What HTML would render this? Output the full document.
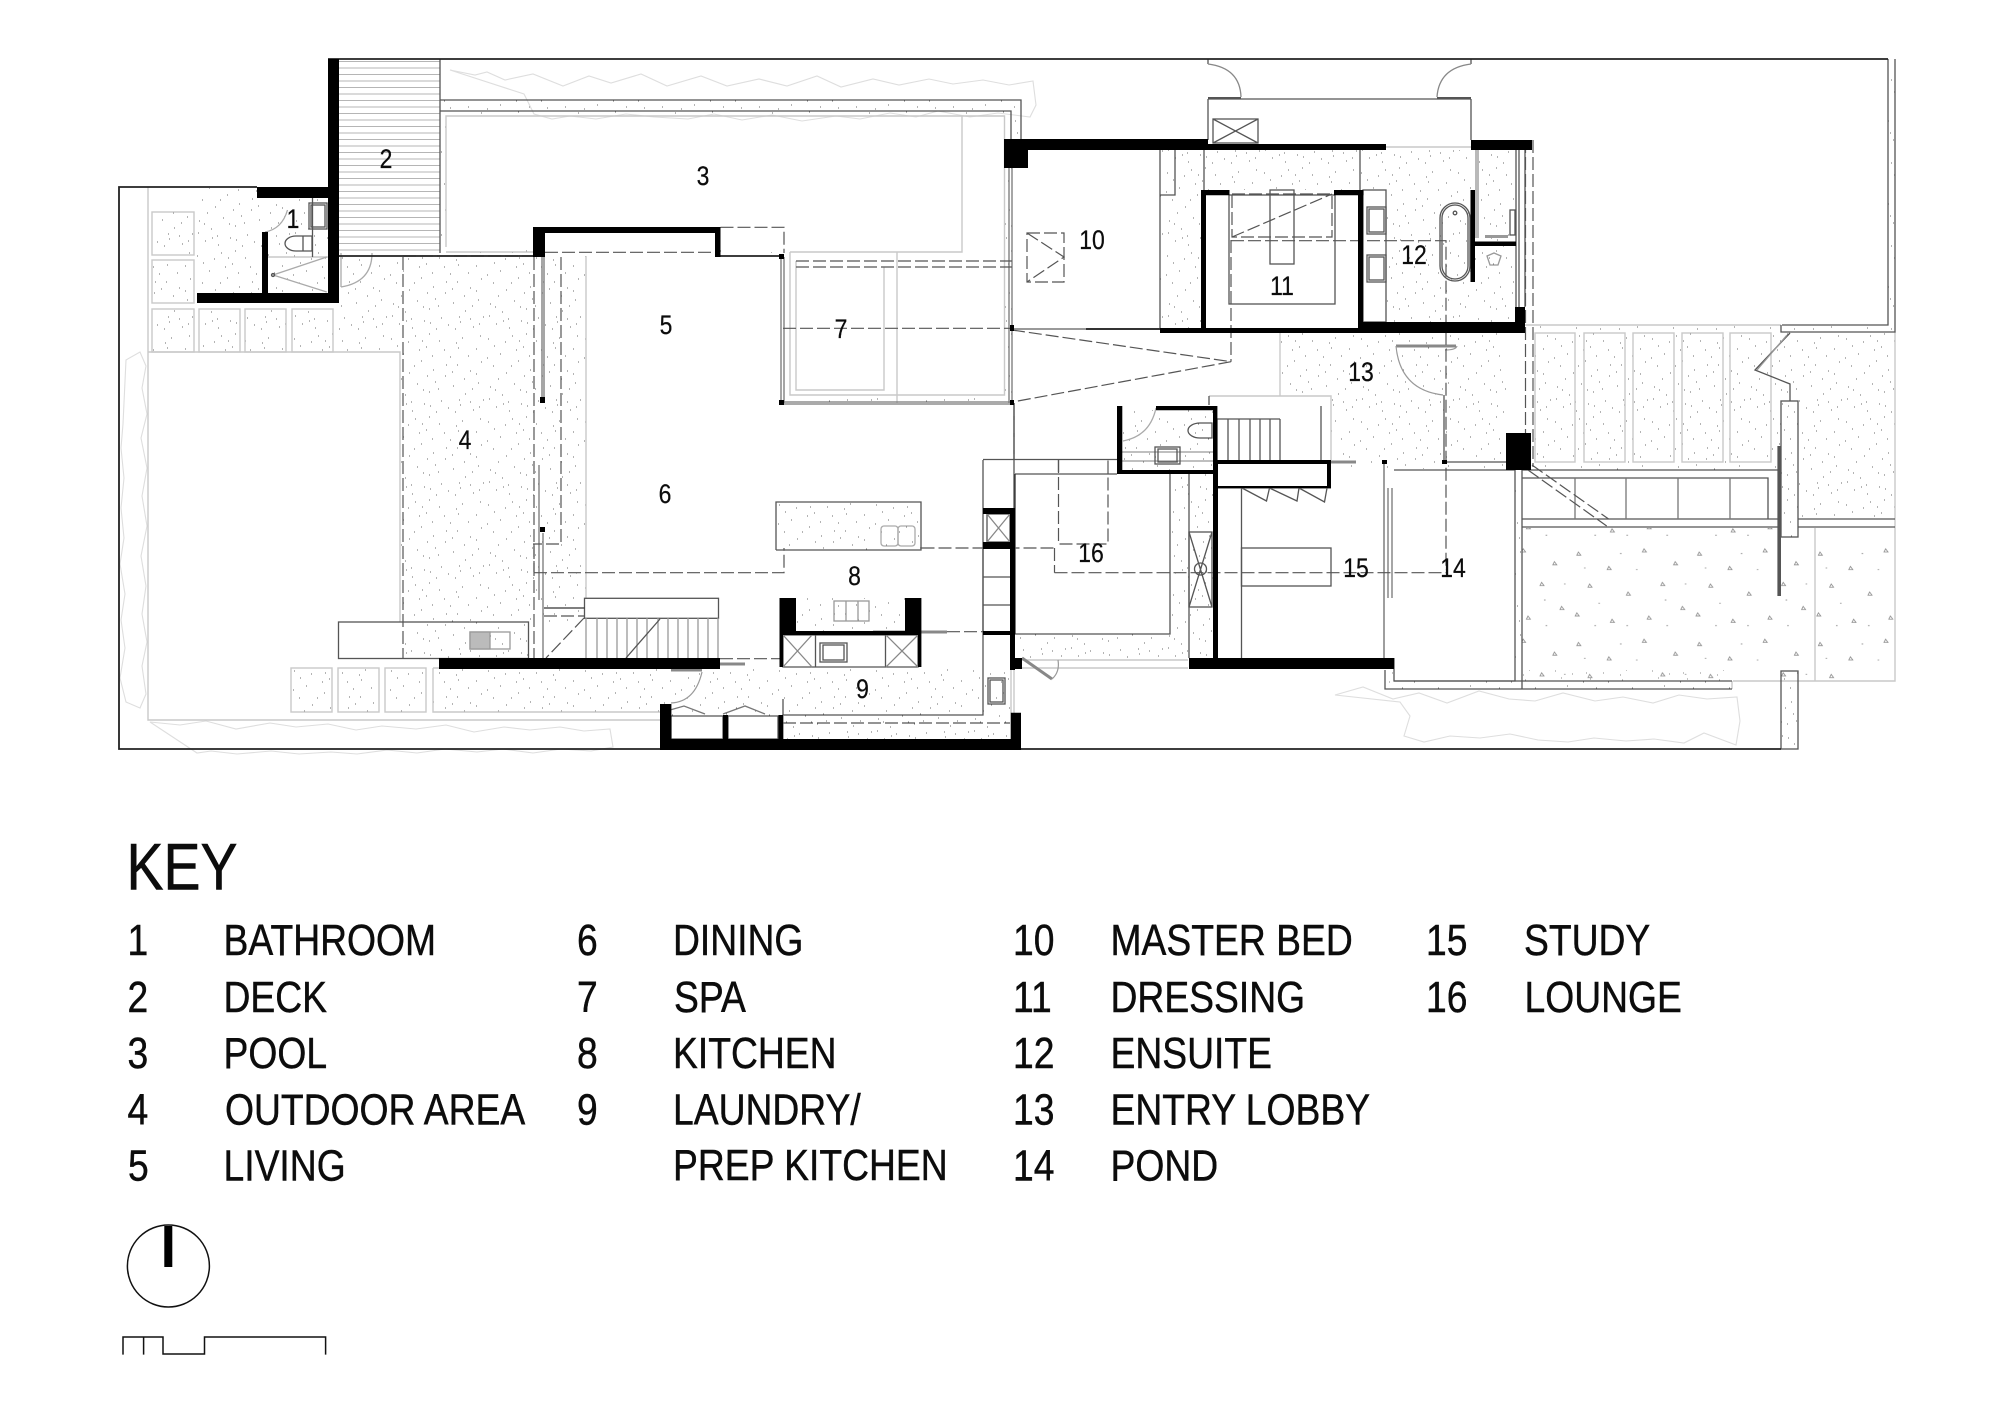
<!DOCTYPE html>
<html>
<head>
<meta charset="utf-8">
<title>Floor plan</title>
<style>
html,body{margin:0;padding:0;background:#fff}
svg{display:block}
.k{fill:none;stroke:#222;stroke-width:1.8}
.m{fill:none;stroke:#555;stroke-width:1.3}
.g{fill:none;stroke:#999;stroke-width:1.2}
.l{fill:none;stroke:#c9c9c9;stroke-width:1.4}
.s{fill:none;stroke:#dedede;stroke-width:1.1}
.d{fill:none;stroke:#555;stroke-width:1.2;stroke-dasharray:13 4}
.t{fill:none;stroke:#888;stroke-width:3}
text{font-family:"Liberation Sans",Arial,sans-serif;fill:#0c0c0c}
.n{font-size:27px;text-anchor:middle;stroke:#0c0c0c;stroke-width:.25}
.c{font-size:44px;stroke:#0c0c0c;stroke-width:.45}
</style>
</head>
<body>
<svg xmlns="http://www.w3.org/2000/svg" width="2000" height="1414" viewBox="0 0 2000 1414">
<defs>
<pattern id="st" patternUnits="userSpaceOnUse" width="97" height="83">
<path stroke="#6a6a6a" stroke-width="1" fill="none" d="M3 7h1M15 22h1M27 4h1M38 15h1M51 9h1M62 25h1M74 6h1M88 17h1M8 34h1M21 41h1M33 29h1M45 38h1M57 44h1M69 33h1M82 39h1M93 30h1M5 55h1M17 63h1M29 52h1M41 60h1M53 69h1M65 54h1M77 62h1M90 51h1M11 75h1M24 79h1M36 72h1M48 80h1M60 76h1M72 73h1M85 78h1M95 68h1M31 18h1M70 16h1M13 47h1M47 50h1M84 57h1M58 33h1M23 70h1M92 4h1M41 2h1M4 67h1M9 14h1M20 10h1M34 9h1M44 24h1M56 18h1M68 11h1M80 24h1M2 26h1M26 34h1M39 44h1M64 40h1M76 47h1M88 42h1M10 58h1M35 58h1M50 57h1M71 68h1M82 70h1M18 72h1M42 74h1M67 80h1M91 75h1"/>
</pattern>
<pattern id="tr" patternUnits="userSpaceOnUse" width="151" height="113" patternTransform="scale(.8)">
<path stroke="#8a8a8a" stroke-width="1" fill="none" d="M10 12l3 4h-5zM48 30l3 4h-5zM92 8l3 4h-5zM131 24l3 4h-5zM24 52l3 4h-5zM72 62l3 4h-5zM115 50l3 4h-5zM8 88l3 4h-5zM52 96l3 4h-5zM98 92l3 4h-5zM140 80l3 4h-5zM35 76h2M82 34h2M118 72h2M62 14h2M17 32h2M143 52h2M70 104h2M120 104h2M30 104h2"/>
</pattern>
<pattern id="ha" patternUnits="userSpaceOnUse" width="20" height="6.5">
<rect width="20" height="6.5" fill="#fff"/>
<path d="M0 3H20" stroke="#b5b5b5" stroke-width="1.1"/>
</pattern>
</defs>
<rect width="2000" height="1414" fill="#fff"/>

<!-- stipple regions -->
<g fill="url(#st)">
<rect x="197" y="188" width="65" height="105"/>
<rect x="268" y="198" width="60" height="95"/>
<rect x="152" y="212" width="42" height="43"/><rect x="152" y="260" width="42" height="43"/>
<rect x="152" y="309" width="42" height="43"/><rect x="199" y="309" width="41" height="43"/><rect x="245" y="309" width="41" height="43"/><rect x="292" y="309" width="41" height="43"/>
<path d="M339 256H586V622H529V659H403V622H400V352H339Z"/>
<rect x="440" y="100" width="581" height="11"/>
<rect x="1010" y="100" width="11" height="39"/>
<rect x="440" y="111" width="6" height="142"/>
<rect x="446" y="111" width="559" height="5"/>
<rect x="446" y="247" width="87" height="6"/>
<rect x="720" y="247" width="62" height="6"/>
<rect x="790" y="395" width="222" height="9"/>
<rect x="1004" y="168" width="8" height="230"/>
<rect x="291" y="668" width="41" height="44"/><rect x="338" y="668" width="41" height="44"/><rect x="385" y="668" width="41" height="44"/><rect x="433" y="668" width="227" height="44"/>
<rect x="660" y="669" width="350" height="46"/>
<rect x="671" y="715" width="340" height="24"/>
<rect x="776" y="502" width="145" height="48"/>
<rect x="796" y="598" width="109" height="33"/>
<rect x="1015" y="634" width="174" height="24"/>
<rect x="1170" y="474" width="43" height="184"/>
<rect x="1122" y="410" width="91" height="60"/>
<rect x="1160" y="150" width="41" height="178"/>
<rect x="1201" y="150" width="270" height="40"/>
<rect x="1363" y="190" width="108" height="132"/>
<rect x="1475" y="150" width="40" height="172"/>
<rect x="1475" y="246" width="40" height="76"/>
<path d="M1280 333H1525V325H1506V433H1506V469H1331V396H1280Z"/>
<rect x="1533" y="325" width="248" height="145"/>
<rect x="1781" y="333" width="114" height="186"/>
<rect x="1888" y="59" width="7" height="273"/>
<rect x="1782" y="325" width="106" height="7"/>
<rect x="1515" y="470" width="7" height="211"/>
<rect x="1385" y="670" width="347" height="19" opacity=".8"/>
<rect x="1394" y="681" width="340" height="8"/>
<rect x="1781" y="401" width="17" height="136"/>
<rect x="1781" y="671" width="17" height="78"/>
</g>
<g fill="url(#tr)">
<rect x="1522" y="528" width="259" height="153"/>
<rect x="1781" y="537" width="114" height="144"/>
</g>

<!-- white interiors -->
<g fill="#fff">
<rect x="1522" y="478" width="246" height="41"/>
<rect x="1363" y="190" width="23" height="132"/>
<rect x="309" y="203" width="18" height="26"/>
<rect x="285" y="236" width="27" height="15"/>
<rect x="1394" y="470" width="121" height="211"/>
</g>
<rect x="339" y="59" width="101" height="194" fill="url(#ha)"/>
<rect x="1475" y="150" width="4" height="88" fill="#b9b9b9"/>
<rect x="1485" y="235" width="23" height="3" fill="#999"/>

<!-- scribble planting -->
<g class="s">
<path d="M450 70l25 5 12-3 18 8 28-6 30 12 26-10 22 7 30-9 26 12 34-10 26 10 32-7 28 7 30-10 24 11 32-8 26 6 30-6 24 5 30-4 26 5 24-4 3 24-6 12-32-4-28 4-32-6-22 6-26-4-30 6-24-3-34 5-30-6-30 5-28-6-26 5-34-2-28-3-30 5-26-3-18 3-18-5-10-20Z"/>
<path d="M126 360l14-8 6 14-4 22 5 26-6 24 6 30-5 28 5 30-6 30 5 30-4 28 5 28-5 24 4 28-6 14-14-6-6-24 5-30-4-28 4-26-5-30 4-26-3-30 3-30-3-30 2-24Z"/>
<path d="M150 722l30 3 26-4 30 8 34-6 26 4 32-3 28 6 26-4 34 3 30-4 28 7 30-5 26 3 30-3 24 4 26-2 3 18-22 4-30-2-28 4-30-4-26 3-32-3-28 4-30-3-30 4-26-2-32 2-28-3-34 3-26-3-14 2Z"/>
<path d="M1335 695l28-8 30 12 26-6 28 10 32-12 30 8 26 2 28-8 32 8 28-4 30 6 26-8 28 4 30-2 3 24-4 24-32-12-20 10-30-4-28 2-32-3-26 4-30-2-28-6-30 4-30-2-26 6-20-6 6-20-10-14Z"/>
</g>

<!-- light lines -->
<g class="l">
<path d="M148 187V720H660"/>
<path d="M148 352H400V622"/>
<path d="M586 256V598"/>
<rect x="152" y="212" width="42" height="43"/><rect x="152" y="260" width="42" height="43"/>
<rect x="152" y="309" width="42" height="43"/><rect x="199" y="309" width="41" height="43"/><rect x="245" y="309" width="41" height="43"/><rect x="292" y="309" width="41" height="43"/>
<rect x="291" y="668" width="41" height="44"/><rect x="338" y="668" width="41" height="44"/><rect x="385" y="668" width="41" height="44"/>
<path d="M433 668H660M433 668V712H660"/>
<path d="M446 247V116H1004.5V395H790V252"/>
<path d="M446 252H533"/>
<path d="M962 116V252H790M897 252V403"/>
<path d="M796 261V390H884V267"/>
<path d="M1280 333V396"/>
<path d="M1209 396H1331V460"/>
<rect x="1535" y="333" width="40" height="129"/><rect x="1584" y="333" width="41" height="129"/><rect x="1633" y="333" width="41" height="129"/><rect x="1682" y="333" width="41" height="129"/><rect x="1730" y="333" width="41" height="129"/>
<path d="M1525 325H1781"/>
<path d="M1895 332V681H1733M1815 528V681M1732 689V681"/>
<path d="M1384 462V658M1022 660H1188M1022 668H1188"/>
<path d="M1011 670V713M1014 670V713"/>
<path d="M1386 147H1471"/>
<path d="M268 257H328"/>
</g>

<!-- medium lines -->
<g class="m">
<path d="M440 59V253M440 100H1021V139M440 111H1011V168"/>
<path d="M1160 150V328M1160 195H1175V150"/>
<path d="M1204 150V190M1360 150V190"/>
<rect x="1229" y="195" width="106" height="109"/>
<rect x="1270" y="190" width="24" height="74"/>
<rect x="1363" y="190" width="23" height="132"/>
<rect x="1367" y="207" width="19" height="27"/><rect x="1369" y="209" width="15" height="23"/>
<rect x="1367" y="255" width="19" height="27"/><rect x="1369" y="257" width="15" height="23"/>
<rect x="1440" y="203" width="30" height="78" rx="15"/><rect x="1442" y="205" width="26" height="74" rx="13"/>
<circle cx="1455" cy="213" r="1.8"/>
<path d="M1516 150V307M1519 150V307M1525 150V307"/>
<rect x="1510" y="210" width="5" height="25"/>
<path d="M1487 256l7-3 7 3-3 9h-8Z" stroke="#999"/>
<path d="M1208 59V64M1471 59V64"/>
<path d="M1208 64Q1240 68 1241 97M1471 64Q1439 68 1437 97" stroke="#888"/>
<path d="M1208 99H1471M1208 99V140M1471 99V140"/>
<rect x="1213" y="119" width="45" height="24"/><path d="M1213 119L1258 143M1258 119L1213 143"/>
<path d="M1015 474H1117M983 459.5H1117M1014 460V508M983 460V508M983 549V715H783"/>
<path d="M1058.5 460V472"/>
<path d="M1170 474V634H1015M1189 474V658"/>
<rect x="1189" y="532" width="23" height="75"/>
<path d="M1189 532L1212 607M1212 532L1189 607"/><circle cx="1200.5" cy="569" r="6"/>
<path d="M1241.5 488V658"/><rect x="1241.5" y="548" width="89.5" height="38"/>
<path d="M1218 488H1331"/>
<path d="M1242 488L1266.5 501 1269.5 488M1269.5 488L1297 501 1299 488M1299 488L1324.5 502 1327 488"/>
<path d="M1384 460V658M1388 488V598M1392 488V598" stroke="#777"/>
<path d="M1394 470H1515V681H1394V658"/>
<path d="M1385 670V689H1732M1394 681H1732M1522 470V689"/>
<path d="M1522 470H1781M1522 478H1768V519H1522M1522 519H1781M1522 527H1781M1798 519H1895M1798 527H1895"/>
<path d="M1575 478V519M1626 478V519M1678 478V519M1730 478V519" stroke="#777"/>
<rect x="1781" y="401" width="17" height="136"/>
<rect x="1781" y="671" width="17" height="78"/>
<path d="M1790 333L1755 370 1790 384V401"/>
<path d="M1787 335L1757 370" stroke="#999"/>
<path d="M1782 325H1888V59M1895 59V332H1781V325"/>
<path d="M1506 462H1446M1444 395V462"/>
<path d="M1217 419H1280M1217 419V460M1228 419V460M1239 419V460M1250 419V460M1260 419V460M1270 419V460M1280 419V460"/>
<path d="M1209 396V405M1321 406V460"/>
<path d="M1122 452H1213M1122 461H1213" stroke="#999"/>
<rect x="1155" y="447" width="25" height="17"/><rect x="1158" y="449" width="19" height="13"/>
<path d="M1212 423h-12a12 7.5 0 0 0 0 15h12ZM1212 423v15"/>
<path d="M1156 408Q1150 436 1123 441" stroke="#aaa"/>
<path d="M783 635H918V667H783ZM815.5 635V667M885.5 635V667"/>
<path d="M783 635L812 667M812 635L783 667M886 635L918 667M918 635L886 667" stroke="#888"/>
<rect x="820" y="643" width="27" height="19"/><rect x="823" y="645" width="21" height="15"/>
<rect x="834" y="601" width="35" height="20" stroke="#999"/>
<path d="M846 601V621M858 601V621" stroke="#999"/>
<path d="M776 550V502H921V550H776"/>
<rect x="881" y="526" width="17" height="20" rx="3" stroke="#aaa"/><rect x="898" y="526" width="17" height="20" rx="3" stroke="#aaa"/>
<rect x="987" y="514" width="23" height="28"/>
<path d="M987 514L1010 542M1010 514L987 542" stroke="#888"/>
<path d="M983 508V631M1010 577H983M1010 605H983"/>
<rect x="988" y="678" width="17" height="26"/><rect x="990" y="680" width="13" height="22"/>
<path d="M663 712L684 706 705 714M723 714L745 706 765 714M783 714V739" stroke="#777"/>
<path d="M671 716H723V739H671ZM728 716H778V739H728Z" fill="#fff"/>
<path d="M783 699V715"/>
<rect x="309" y="203" width="18" height="26"/><rect x="311" y="205" width="14" height="22"/>
<path d="M312.5 198V257"/>
<path d="M312 236h-16a11 7.5 0 0 0 0 15h16ZM303 236v15"/>
<path d="M326.8 257L273 275 326.8 292" stroke="#aaa"/>
<circle cx="273" cy="275" r="1.5"/>
<path d="M287.5 210Q282 229 265 232" stroke="#aaa"/>
<path d="M372 253Q372 282 341 287M341 253V287" stroke="#aaa"/>
<rect x="338.5" y="622" width="190" height="36.5"/>
<rect x="470" y="632" width="40" height="17" stroke="#999"/>
<rect x="470" y="632" width="20" height="17" fill="#bbb" stroke="#999"/>
<rect x="584.5" y="598.3" width="134" height="20"/>
<path d="M586 618V658M597 618V658M607 618V658M617 618V658M627 618V658M637 618V658M647 618V658M658 618V658M668 618V658M678 618V658M688 618V658M698 618V658M708 618V658M718 618V658" stroke="#999"/>
<path d="M660 619L626 658"/>
<path d="M544 608H584.5" stroke="#333"/>
<path d="M539 465V600M542 257V397M543 533V658M544 257V397" stroke="#777"/>
<path d="M781 257V403M784 257V403M782 404H1012M782 402H1012M1012 168V403M1009 168V403" stroke="#777"/>
<path d="M1014 403V460M1015 474V634" stroke="#333"/>
</g>

<!-- gray thick -->
<g class="t">
<path d="M1396 346H1456"/>
<path d="M667 664H745"/>
<path d="M671 670H702"/>
<path d="M873 632H947"/>
<path d="M1300 462H1356"/>
<path d="M1022 658L1052 679"/>
<path d="M1014 329H1086" stroke="#999" stroke-width="2"/>
<path d="M1086 329H1160" stroke="#333" stroke-width="2"/>
</g>
<path d="M1396 346Q1400 390 1443 395" class="g"/>
<path d="M1445 350Q1456 350 1457 346" class="g"/>
<path d="M702 672Q695 702 671 703" class="g"/>
<path d="M1052 679Q1060 672 1058 660" class="g"/>

<!-- dashed -->
<g class="d">
<path d="M545 252.3H716"/>
<path d="M720.5 227.3H784V253"/>
<path d="M561 257V544H533M534 572.7H784V548"/>
<path d="M534 544V572"/>
<path d="M403 257V658M403 256H533M534 257V658"/>
<path d="M783 328.3H1012"/>
<path d="M796 261H1012M796 267H1012"/>
<path d="M1012 330L1231 361.7 1014 401.7M1231 240V361.7"/>
<path d="M1231 240.7H1446V570"/>
<path d="M1054.5 572.7H1447M1054.5 548V572.7M921.5 548H1054.5"/>
<path d="M1014 403V460"/>
<path d="M1058.5 460V544H1108V460"/>
<rect x="1232" y="194" width="100" height="43"/>
<path d="M1232 237L1332 194"/>
<rect x="1027" y="233" width="37" height="49"/>
<path d="M1027 233L1064 257 1027 282"/>
<path d="M1525.5 140V467M1533 140V467"/>
<path d="M1532 465L1608.6 519M1528 470L1606.7 526"/>
<path d="M544 616H584.5M584 618L546 658"/>
<path d="M720 658.7H779.5"/>
<path d="M947 631.7H983"/>
<path d="M783 723H1010"/>
</g>

<!-- boundary -->
<g class="k">
<path d="M257 187H119V749H660M1021 749H1781"/>
<path d="M328 59H1888"/>
<path d="M339 256H533M720 256H781"/>
</g>

<!-- solid walls -->
<path fill="#000" d="M328 59h11v244h-11zM257 187h71v11h-71zM197 293h142v10h-142zM262 232h6v61h-6z
M533 227h187.5v6h-187.5zM533 227h12v30h-12zM715 227h5.5v30h-5.5z
M1004 139h204v11h-204zM1207 144h179v6h-179zM1004 139h24v29h-24zM1471 140h61v10h-61z
M1160 328h198v5h-198zM1358 322h167v11h-167zM1515 307h10v26h-10z
M1201 190h5v138h-5zM1201 190h28.5v5.3h-28.5zM1334 190h29.4v5.3h-29.4zM1358 190h5v138h-5z
M1470.5 190h4.5v92h-4.500zM1475 241.5h41v4.5h-41zM1506 433h25v37h-25z
M1117 406h5.3v67h-5.3zM1156 406h61v4.3h-61zM1213 406h4.4v67h-4.4zM1117 470h98v4h-98z
M1215 460h116v4h-116zM1327 463h4v25h-4zM1218 486h113v2h-113zM1213 460h5v208h-5zM1189 658h205v11h-205z
M905 598h16.4v37h-16.4zM779.500 598h16.5v33h-16.5zM779.5 631h141.9v4h-141.9zM918 635h3.4v32h-3.4zM779.5 631h3.5v36h-3.5z
M1010 508h5v162h-5zM1010 658h12v11h-12zM983 508h32v6h-32zM983 542h32v7h-32zM983 631h27v4h-27z
M439 658h281v11h-281z
M660 704h11.4v46h-11.4zM660 739h361v11h-361zM1010.7 712.7h10.3v37.3h-10.3zM723 715h5v25h-5zM778.5 715h4.5v25h-4.5z
M540 397h5v6h-5zM540 527h5v5h-5zM779 400h5v5h-5zM1010 400h4v5h-4zM1010 325h4v6h-4zM779 254h5v5h-5zM1442 460h5v4h-5zM1382 460h5v4h-5z" />
<path d="M1208 97h33v2.5h-33zM1437 97h34v2.5h-34z" fill="#555"/>
<path d="M1777.4 446h3.6v150h-3.6z" fill="#555"/>

<!-- room numbers -->
<text class="n" transform="translate(293,228) scale(.85,1)">1</text>
<text class="n" transform="translate(386,168) scale(.85,1)">2</text>
<text class="n" transform="translate(703,185) scale(.85,1)">3</text>
<text class="n" transform="translate(465,449) scale(.85,1)">4</text>
<text class="n" transform="translate(666,334) scale(.85,1)">5</text>
<text class="n" transform="translate(665,503) scale(.85,1)">6</text>
<text class="n" transform="translate(841,338) scale(.85,1)">7</text>
<text class="n" transform="translate(854.5,585) scale(.85,1)">8</text>
<text class="n" transform="translate(862.5,698) scale(.85,1)">9</text>
<text class="n" transform="translate(1092,249) scale(.85,1)">10</text>
<text class="n" transform="translate(1282,295) scale(.85,1)">11</text>
<text class="n" transform="translate(1414,264) scale(.85,1)">12</text>
<text class="n" transform="translate(1361,381) scale(.85,1)">13</text>
<text class="n" transform="translate(1453,577) scale(.85,1)">14</text>
<text class="n" transform="translate(1356,577) scale(.85,1)">15</text>
<text class="n" transform="translate(1091,562) scale(.85,1)">16</text>

<!-- key -->
<text font-size="66" stroke="#0c0c0c" stroke-width=".6" transform="translate(126.500,889.5) scale(.84,1)">KEY</text>
<g>
<text class="c" transform="translate(127.500,955) scale(.847,1)">1</text><text class="c" transform="translate(223.500,955) scale(.847,1)">BATHROOM</text>
<text class="c" transform="translate(127.500,1012) scale(.847,1)">2</text><text class="c" transform="translate(223.500,1012) scale(.847,1)">DECK</text>
<text class="c" transform="translate(127.500,1068) scale(.847,1)">3</text><text class="c" transform="translate(223.500,1068) scale(.847,1)">POOL</text>
<text class="c" transform="translate(127.500,1124.5) scale(.847,1)">4</text><text class="c" transform="translate(225,1124.5) scale(.847,1)">OUTDOOR AREA</text>
<text class="c" transform="translate(128,1180.5) scale(.847,1)">5</text><text class="c" transform="translate(223.500,1180.5) scale(.847,1)">LIVING</text>
<text class="c" transform="translate(577,955) scale(.847,1)">6</text><text class="c" transform="translate(673,955) scale(.847,1)">DINING</text>
<text class="c" transform="translate(577,1012) scale(.847,1)">7</text><text class="c" transform="translate(674,1012) scale(.847,1)">SPA</text>
<text class="c" transform="translate(577,1068) scale(.847,1)">8</text><text class="c" transform="translate(673,1068) scale(.847,1)">KITCHEN</text>
<text class="c" transform="translate(577,1124.5) scale(.847,1)">9</text><text class="c" transform="translate(673,1124.5) scale(.847,1)">LAUNDRY/</text>
<text class="c" transform="translate(673,1180) scale(.847,1)">PREP KITCHEN</text>
<text class="c" transform="translate(1013,955) scale(.847,1)">10</text><text class="c" transform="translate(1110.500,955) scale(.847,1)">MASTER BED</text>
<text class="c" transform="translate(1013,1012) scale(.847,1)">11</text><text class="c" transform="translate(1110.500,1012) scale(.847,1)">DRESSING</text>
<text class="c" transform="translate(1013,1068) scale(.847,1)">12</text><text class="c" transform="translate(1110.500,1068) scale(.847,1)">ENSUITE</text>
<text class="c" transform="translate(1013,1124.5) scale(.847,1)">13</text><text class="c" transform="translate(1110.500,1124.5) scale(.847,1)">ENTRY LOBBY</text>
<text class="c" transform="translate(1013,1180.5) scale(.847,1)">14</text><text class="c" transform="translate(1110.500,1180.5) scale(.847,1)">POND</text>
<text class="c" transform="translate(1426,955) scale(.847,1)">15</text><text class="c" transform="translate(1524,955) scale(.847,1)">STUDY</text>
<text class="c" transform="translate(1426,1012) scale(.847,1)">16</text><text class="c" transform="translate(1524.500,1012) scale(.847,1)">LOUNGE</text>
</g>

<!-- north point -->
<circle cx="168.4" cy="1266" r="41" fill="none" stroke="#111" stroke-width="1.5"/>
<rect x="164.3" y="1226" width="8" height="41" fill="#000"/>

<!-- scale bar -->
<path d="M123 1354.600V1337H163V1354H204.5V1337H325.6V1354.600M143.600 1337V1354.6" fill="none" stroke="#111" stroke-width="1.5"/>
</svg>
</body>
</html>
